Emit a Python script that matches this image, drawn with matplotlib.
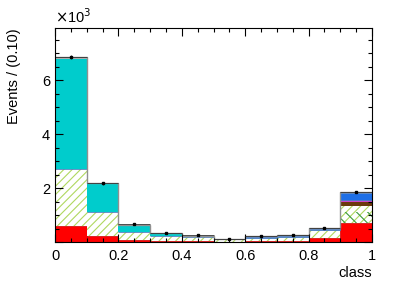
import matplotlib
matplotlib.use("Agg")
import matplotlib.pyplot as plt
import numpy as np
from matplotlib.ticker import MultipleLocator

plt.rcParams['font.family'] = ['Liberation Sans', 'DejaVu Sans']
plt.rcParams['hatch.linewidth'] = 0.8

# bin edges (class)
bin_edges = [0.0, 0.1, 0.2, 0.3, 0.4, 0.5, 0.6, 0.7, 0.8, 0.9, 1.0]
# stacked components, in units of 10^3 events
red = [0.60, 0.23, 0.08, 0.03, 0.02, 0.01, 0.02, 0.02, 0.14, 0.69]
dark_green = [0.0, 0.0, 0.0, 0.0, 0.0, 0.0, 0.0, 0.0, 0.0, 0.43]
light_green = [2.10, 0.87, 0.28, 0.20, 0.15, 0.10, 0.13, 0.18, 0.29, 0.21]
brown = [0.0, 0.0, 0.0, 0.0, 0.0, 0.0, 0.0, 0.0, 0.0, 0.15]
magenta = [0.02, 0.02, 0.0, 0.0, 0.0, 0.0, 0.0, 0.0, 0.01, 0.08]
blue = [0.0, 0.0, 0.0, 0.0, 0.0, 0.0, 0.02, 0.02, 0.05, 0.27]
cyan = [4.06, 1.05, 0.25, 0.10, 0.06, 0.0, 0.02, 0.02, 0.02, 0.0]
grey = [0.07, 0.03, 0.02, 0.02, 0.01, 0.01, 0.02, 0.02, 0.02, 0.03]
# data
data = [6.85, 2.18, 0.65, 0.33, 0.25, 0.12, 0.21, 0.25, 0.52, 1.84]
data_err = [0.08, 0.05, 0.03, 0.02, 0.02, 0.01, 0.01, 0.02, 0.02, 0.04]
# tick labels
xtick_vals = [0.0, 0.2, 0.4, 0.6, 0.8, 1.0]
xtick_labels = ['0', '0.2', '0.4', '0.6', '0.8', '1']
ytick_vals = [0, 2, 4, 6]
ytick_labels = ['', '2', '4', '6']

W, H = 415, 282
fig = plt.figure(figsize=(W / 100, H / 100), dpi=100)
ax = fig.add_axes([55 / W, 1 - 242 / H, (372 - 55) / W, (242 - 28) / H])

edges = np.array(bin_edges)
left = edges[:-1]
width = np.diff(edges)
centers = left + width / 2

bottom = np.zeros(len(left))
ax.bar(left, red, width, bottom=bottom, align='edge', color='#ff0000',
       edgecolor='#cc0000', linewidth=0.5)
bottom = bottom + np.array(red)
lg_tot = np.array(light_green) + np.array(dark_green)
ax.bar(left, lg_tot, width, bottom=bottom, align='edge', facecolor='white',
       edgecolor='#b0d860', hatch='////', linewidth=0)
ax.bar(left, dark_green, width, bottom=bottom, align='edge', facecolor='none',
       edgecolor='#3a9a3a', hatch='\\\\\\', linewidth=0)
bottom = bottom + lg_tot
ax.bar(left, brown, width, bottom=bottom, align='edge', color='#6b3a0c', linewidth=0)
bottom = bottom + np.array(brown)
ax.bar(left, magenta, width, bottom=bottom, align='edge', color='#cc44cc', linewidth=0)
bottom = bottom + np.array(magenta)
ax.bar(left, blue, width, bottom=bottom, align='edge', color='#1e6fe6',
       edgecolor='#4d7fbf', linewidth=0.6)
bottom = bottom + np.array(blue)
ax.bar(left, cyan, width, bottom=bottom, align='edge', color='#00cccc', linewidth=0)
bottom = bottom + np.array(cyan)
ax.bar(left, grey, width, bottom=bottom, align='edge', color='#b4b4b4', linewidth=0)
bottom = bottom + np.array(grey)

ax.stairs(bottom, edges, color='#909090', linewidth=1.0, baseline=None)

ax.errorbar(centers, data, yerr=data_err, xerr=width / 2, fmt='s', ms=2,
            color='black', ecolor='#333333', elinewidth=0.6, capsize=0)

ax.set_xlim(0, 1)
ax.set_ylim(0, 7.93)

ax.set_xticks(xtick_vals)
ax.set_xticklabels(xtick_labels)
ax.xaxis.set_minor_locator(MultipleLocator(0.05))
ax.set_yticks(ytick_vals)
ax.set_yticklabels(ytick_labels)
ax.yaxis.set_minor_locator(MultipleLocator(0.5))
ax.tick_params(which='both', direction='in', top=True, right=True, labelsize=10.5,
               width=0.8, colors='black')
ax.tick_params(which='major', length=6)
ax.tick_params(which='minor', length=3)
ax.tick_params(axis='x', pad=5)
for s in ax.spines.values():
    s.set_linewidth(0.8)

ax.set_xlabel('class', fontsize=10.5, loc='right', labelpad=2)
ax.set_ylabel('Events / (0.10)', fontsize=10.5, loc='top', labelpad=15)
ax.text(0.0, 1.01, r'$\times$10$^3$', transform=ax.transAxes, fontsize=10.5,
        ha='left', va='bottom')

fig.savefig('out.png', dpi=100)
